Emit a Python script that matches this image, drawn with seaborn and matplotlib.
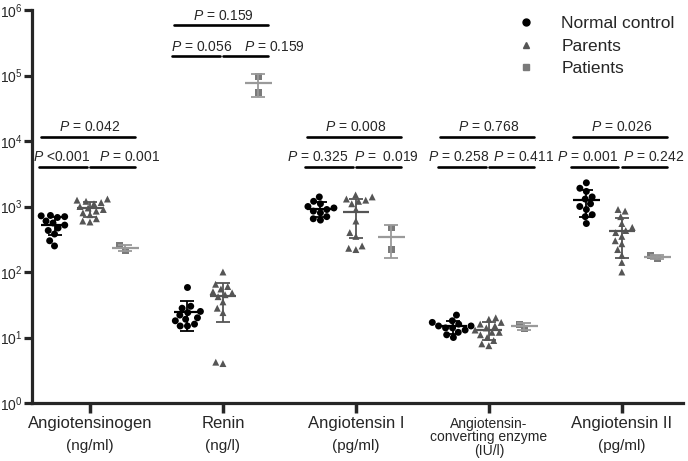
import numpy as np
import pandas as pd
import seaborn as sns
import matplotlib
matplotlib.use("Agg")
from matplotlib import pyplot as plt
from matplotlib.lines import Line2D
from matplotlib.ticker import LogLocator, NullLocator, LogFormatterMathtext

sns.set_style("ticks")
plt.rcParams['font.family'] = ['Liberation Sans', 'DejaVu Sans']
plt.rcParams['mathtext.fontset'] = 'custom'
plt.rcParams['mathtext.rm'] = 'Liberation Sans'
plt.rcParams['mathtext.it'] = 'Liberation Sans:italic'

# categories
analytes = ["Angiotensinogen", "Renin", "Angiotensin I", "ACE", "Angiotensin II"]
names = ["Angiotensinogen", "Renin", "Angiotensin I",
         "Angiotensin-\nconverting enzyme\n(IU/l)", "Angiotensin II"]
units = ["(ng/ml)", "(ng/l)", "(pg/ml)", "", "(pg/ml)"]
groups = ["Normal control", "Parents", "Patients"]

# values
agt_control = [730, 700, 720, 680, 600, 560, 520, 470, 430, 380, 300, 250]
agt_parents = [1300, 1250, 1200, 1100, 1000, 950, 900, 850, 800, 750, 650, 600, 580, 1150]
agt_patients = [250, 215]

renin_control = [58, 30, 28, 25, 24, 22, 20, 19, 18, 16, 15, 15]
renin_parents = [100, 65, 60, 55, 50, 48, 45, 42, 35, 28, 24, 4.2, 4.0]
renin_patients = [97000, 55000]

ang1_control = [1400, 1200, 1100, 1000, 950, 900, 850, 800, 700, 650, 620]
ang1_parents = [1500, 1400, 1300, 1250, 1200, 1100, 900, 600, 400, 350, 250, 230, 220]
ang1_patients = [470, 218]

ace_control = [22, 18, 17, 16, 15, 15, 14, 14, 13, 12, 11, 10]
ace_parents = [20, 19, 17, 16, 15, 14, 13, 12, 12, 11, 10, 9, 8, 7.5]
ace_patients = [16, 13.5]

ang2_control = [2300, 1900, 1700, 1400, 1300, 1100, 1000, 900, 750, 700, 550]
ang2_parents = [900, 850, 700, 550, 480, 430, 400, 350, 300, 270, 220, 180, 140, 100]
ang2_patients = [160, 178]

# p values: (control vs parents, parents vs patients, control vs patients)
p_left = ["<0.001", "= 0.056", "= 0.325", "= 0.258", "= 0.001"]
p_right = ["= 0.001", "= 0.159", "=  0.019", "= 0.411", "= 0.242"]
p_top = ["= 0.042", "= 0.159", "= 0.008", "= 0.768", "= 0.026"]
# where the lower p labels sit relative to each tick
left_dx = [-0.21, -0.16, -0.29, -0.23, -0.26]
right_dx = [0.30, 0.39, 0.23, 0.26, 0.24]

all_data = {
    "Angiotensinogen": [agt_control, agt_parents, agt_patients],
    "Renin": [renin_control, renin_parents, renin_patients],
    "Angiotensin I": [ang1_control, ang1_parents, ang1_patients],
    "ACE": [ace_control, ace_parents, ace_patients],
    "Angiotensin II": [ang2_control, ang2_parents, ang2_patients],
}
rows = []
for a in analytes:
    for g, vals in zip(groups, all_data[a]):
        for v in vals:
            rows.append({"analyte": a, "group": g, "value": v})
df = pd.DataFrame(rows)

colors = {"Normal control": "#000000", "Parents": "#555555", "Patients": "#7a7a7a"}
bar_colors = {"Normal control": "#000000", "Parents": "#555555", "Patients": "#9a9a9a"}
mk = {"Normal control": "o", "Parents": "^", "Patients": "s"}

fig = plt.figure(figsize=(6.88, 4.61), dpi=100)
ax = fig.add_axes([0.0465, 0.1258, 0.9462, 0.8525])

for g in groups:
    sns.swarmplot(data=df[df.group == g], x="analyte", y="value", hue="group",
                  hue_order=groups, order=analytes, dodge=True, palette=colors,
                  marker=mk[g], size=5, log_scale=True, legend=False, ax=ax)

# mean +/- SD
offsets = [-0.8 / 3, 0, 0.8 / 3]
for i, a in enumerate(analytes):
    for k, g in enumerate(groups):
        vals = np.array(all_data[a][k], dtype=float)
        m, sd = vals.mean(), vals.std(ddof=1)
        x = i + offsets[k]
        ax.errorbar(x, m, yerr=sd, color=bar_colors[g], capsize=5, capthick=1.3,
                    lw=1.3, zorder=4)
        ax.hlines(m, x - 0.1, x + 0.1, color=bar_colors[g], lw=1.6, zorder=4)

# significance lines
for i in range(5):
    if i == 1:
        y_top, y_low, t_top, t_low = 10**5.77, 10**5.30, 10**5.91, 10**5.44
    else:
        y_top, y_low, t_top, t_low = 10**4.06, 10**3.60, 10**4.21, 10**3.76
    ax.plot([i - 0.38, i - 0.025], [y_low, y_low], color="k", lw=1.9)
    ax.plot([i + 0.0, i + 0.34], [y_low, y_low], color="k", lw=1.9)
    ax.plot([i - 0.37, i + 0.34], [y_top, y_top], color="k", lw=1.9)
    ax.text(i + left_dx[i], t_low, "$P$ " + p_left[i], ha="center", va="center", fontsize=10)
    ax.text(i + right_dx[i], t_low, "$P$ " + p_right[i], ha="center", va="center", fontsize=10)
    ax.text(i, t_top, "$P$ " + p_top[i], ha="center", va="center", fontsize=10)

ax.set_ylim(1, 1e6)
ax.set_xlim(-0.436, 4.46)
ax.yaxis.set_major_locator(LogLocator(base=10, numticks=10))
ax.yaxis.set_minor_locator(NullLocator())
ax.yaxis.set_major_formatter(LogFormatterMathtext())
ax.set_xlabel("")
ax.set_ylabel("")
ax.set_xticks(range(5))
ax.tick_params(axis="x", labelbottom=False)
for s in ["top", "right"]:
    ax.spines[s].set_visible(False)
for s in ["left", "bottom"]:
    ax.spines[s].set_linewidth(2.3)
ax.tick_params(axis="y", width=2.3, length=6, labelsize=10, pad=1)
ax.tick_params(axis="x", width=2.5, length=7)

trans = ax.get_xaxis_transform()
for i in range(5):
    if units[i]:
        ax.text(i, -0.051, names[i], transform=trans, ha="center", va="center", fontsize=12)
        ax.text(i, -0.109, units[i], transform=trans, ha="center", va="center", fontsize=11)
    else:
        ax.text(i, -0.087, names[i], transform=trans, ha="center", va="center",
                fontsize=10, linespacing=0.95)

handles = [Line2D([], [], marker=mk[g], ls="", color=colors[g], markersize=5) for g in groups]
ax.legend(handles, groups, loc="upper left", bbox_to_anchor=(0.72, 1.015), frameon=False,
          fontsize=12.5, handletextpad=1.3, handlelength=1.5, labelspacing=0.42,
          borderaxespad=0.3)

fig.savefig("out.png", dpi=100)
